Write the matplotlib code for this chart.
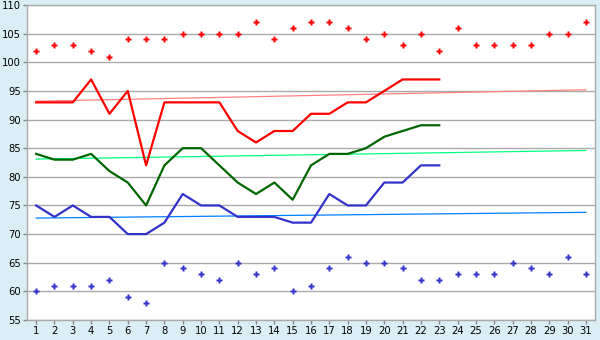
import numpy as np
import matplotlib
matplotlib.use('Agg')
import matplotlib.pyplot as plt

days = list(range(1, 32))

# upper / lower scatter points (all 31 days)
red_dots = [102, 103, 103, 102, 101, 104, 104, 104, 105, 105, 105, 105, 107, 104, 106, 107,
            107, 106, 104, 105, 103, 105, 102, 106, 103, 103, 103, 103, 105, 105, 107]
blue_dots = [60, 61, 61, 61, 62, 59, 58, 65, 64, 63, 62, 65, 63, 64, 60, 61,
             64, 66, 65, 65, 64, 62, 62, 63, 63, 63, 65, 64, 63, 66, 63]

# lines (days 1-23)
red_line = [93, 93, 93, 97, 91, 95, 82, 93, 93, 93, 93, 88, 86, 88, 88, 91, 91, 93, 93, 95, 97, 97, 97]
green_line = [84, 83, 83, 84, 81, 79, 75, 82, 85, 85, 82, 79, 77, 79, 76, 82, 84, 84, 85, 87, 88, 89, 89]
blue_line = [75, 73, 75, 73, 73, 70, 70, 72, 77, 75, 75, 73, 73, 73, 72, 72, 77, 75, 75, 79, 79, 82, 82]

# trend lines: value at day 1 and day 31
red_trend = [93.2, 95.2]
green_trend = [83.1, 84.6]
blue_trend = [72.8, 73.8]

bg = '#d9eef5'
fig = plt.figure(figsize=(6, 3.4), dpi=100, facecolor=bg)
ax = fig.add_axes([27/600, 20/340, 568/600, 315/340])
ax.set_facecolor('white')

ax.set_xlim(0.5, 31.5)
ax.set_ylim(55, 110)
ax.set_yticks(range(55, 111, 5))
ax.set_xticks(days)
ax.grid(axis='y', color='#aaaaaa', lw=1.0)
ax.set_axisbelow(True)

for s in ax.spines.values():
    s.set_color('#aaaaaa')
    s.set_linewidth(1.0)
ax.tick_params(colors='#888888', labelcolor='black', labelsize=7.2, length=3, width=1, pad=1.5)

n = len(red_line)
tx = [1, 31]
ax.plot(tx, red_trend, color='#ff8080', lw=0.9)
ax.plot(tx, green_trend, color='#00ff80', lw=0.9)
ax.plot(tx, blue_trend, color='#0080ff', lw=0.9)

ax.plot(days[:n], red_line, color='#ff0000', lw=1.6)
ax.plot(days[:n], green_line, color='#006600', lw=1.6)
ax.plot(days[:n], blue_line, color='#3333cc', lw=1.6)

ax.plot(days, red_dots, ls='none', marker='P', ms=4.5, color='#ff0000', mec='none')
ax.plot(days, blue_dots, ls='none', marker='P', ms=4.5, color='#3333cc', mec='none')

fig.savefig('out.png', dpi=100, facecolor=bg)
